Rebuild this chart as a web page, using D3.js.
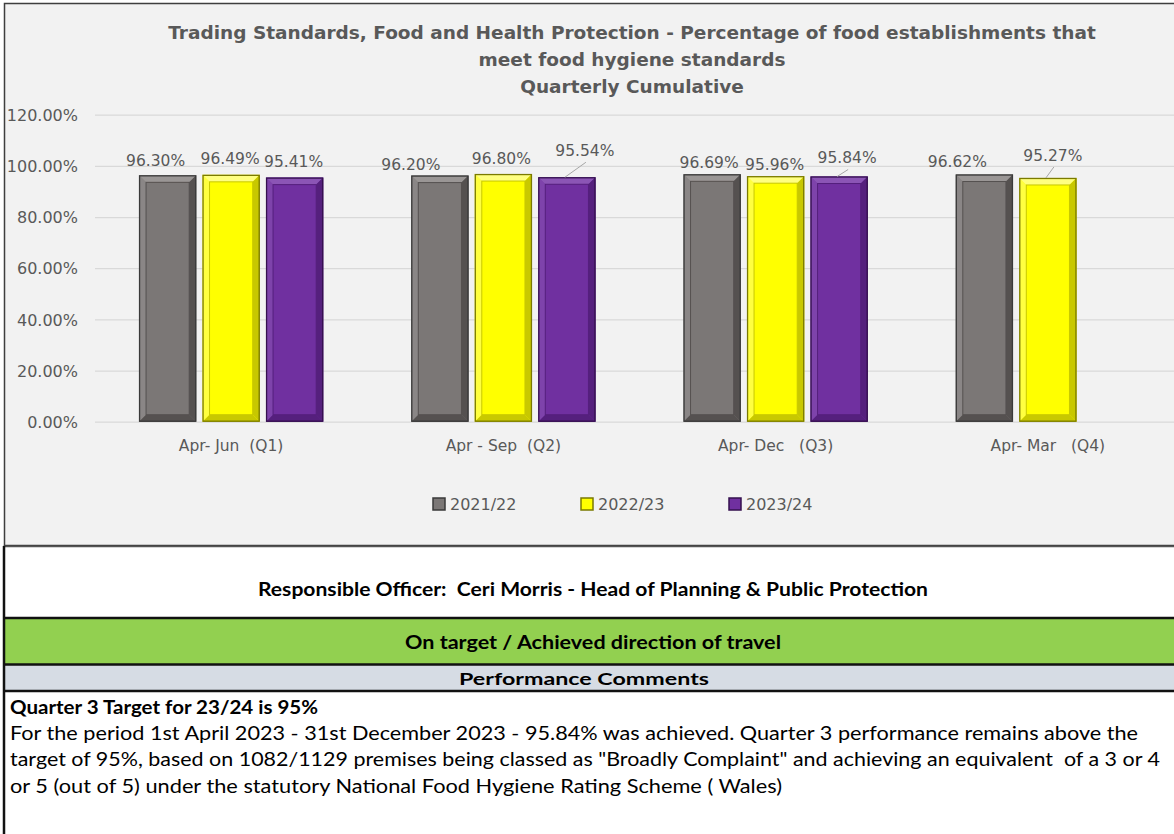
<!DOCTYPE html>
<html>
<head>
<meta charset="utf-8">
<script src="https://cdn.jsdelivr.net/npm/d3@7"></script>
<style>
  body { margin: 0; background: #fff; }
  text { white-space: pre; }
</style>
</head>
<body>
<svg id="mainsvg" width="1174" height="834"></svg>
<script>
// chart values
const quarters = ['Apr- Jun  (Q1)', 'Apr - Sep  (Q2)', 'Apr- Dec   (Q3)', 'Apr- Mar   (Q4)'];
const seriesNames = ['2021/22', '2022/23', '2023/24'];
const values2122 = [96.30, 96.20, 96.69, 96.62];
const values2223 = [96.49, 96.80, 95.96, 95.27];
const values2324 = [95.41, 95.54, 95.84, null];
const yTicks = [0, 20, 40, 60, 80, 100, 120];

const titleLines = [
  'Trading Standards, Food and Health Protection - Percentage of food establishments that',
  'meet food hygiene standards',
  'Quarterly Cumulative'
];
const officerText = 'Responsible Officer:  Ceri Morris - Head of Planning & Public Protection';
const statusText = 'On target / Achieved direction of travel';
const commentsHead = 'Performance Comments';
const commentTitle = 'Quarter 3 Target for 23/24 is 95%';
const commentLines = [
  'For the period 1st April 2023 - 31st December 2023 - 95.84% was achieved. Quarter 3 performance remains above the',
  'target of 95%, based on 1082/1129 premises being classed as "Broadly Complaint" and achieving an equivalent  of a 3 or 4',
  'or 5 (out of 5) under the statutory National Food Hygiene Rating Scheme ( Wales)'
];

// styles
const colors = {
  '2021/22': { fill: '#7b7776', edge: '#3a3a3a', light: '#9a9695', dark: '#555150' },
  '2022/23': { fill: '#ffff00', edge: '#7a7a00', light: '#ffff80', dark: '#c8c800' },
  '2023/24': { fill: '#7030a0', edge: '#35104f', light: '#8b55b5', dark: '#55207d' }
};
// manual data label nudges (dx, dy) as dragged in the original, per quarter & series
const labelNudge = [
  [[-12, 0], [-1, -1], [-1, -1]],
  [[-29, 4], [-2, -1], [18, -12]],
  [[-3, 3], [-1, 3], [8, -4]],
  [[-27, 2], [5, -8], [0, 0]]
];
// widths the spreadsheet text occupies (its font is wider than the fallback)
const commentWidths = [1128, 1150, 772];

const data = [];
quarters.forEach((q, i) => {
  [values2122, values2223, values2324].forEach((vals, j) => {
    if (vals[i] != null) data.push({ quarter: q, series: seriesNames[j], value: vals[i], qi: i, si: j });
  });
});

const svg = d3.select('#mainsvg');
const width = +svg.attr('width');
const chartFont = '"DejaVu Sans", Verdana, sans-serif';
const tableFont = 'Lato, "Open Sans", sans-serif';
const textGray = '#595959';

// chart background and frame
svg.append('rect').attr('x', 0).attr('y', 0).attr('width', width).attr('height', 834).attr('fill', '#fff');
svg.append('rect')
  .attr('x', 4.5).attr('y', 3.5).attr('width', width + 10).attr('height', 542)
  .attr('fill', '#f2f2f2').attr('stroke', '#3f3f3f').attr('stroke-width', 1.5);

const margin = { left: 95, right: 1184, top: 114.7, bottom: 421.7 };

const x0 = d3.scaleBand().domain(quarters).range([margin.left, margin.right]).padding(0);
const barStep = 63.5;
const groupW = barStep * (seriesNames.length - 0.1);
const x1 = d3.scaleBand().domain(seriesNames)
  .range([(x0.bandwidth() - groupW) / 2, (x0.bandwidth() + groupW) / 2])
  .paddingInner(0.1).paddingOuter(0);
const y = d3.scaleLinear().domain([0, 120]).range([margin.bottom, margin.top]);

// y axis gridlines + labels
const yAxis = d3.axisLeft(y).tickValues(yTicks)
  .tickSize(-(margin.right - margin.left))
  .tickFormat(d => d3.format('.2f')(d) + '%');
const gy = svg.append('g').attr('transform', `translate(${margin.left},0)`).call(yAxis);
gy.select('.domain').remove();
gy.selectAll('.tick line').attr('stroke', '#d9d9d9').attr('stroke-width', 1.2);
gy.selectAll('.tick text')
  .attr('x', -17).attr('dy', '0.36em')
  .attr('fill', textGray).attr('font-family', chartFont).attr('font-size', 16);

// x axis labels
const xAxis = d3.axisBottom(x0).tickSize(0).tickPadding(0);
const gx = svg.append('g').attr('transform', `translate(0,${margin.bottom})`).call(xAxis);
gx.select('.domain').remove();
gx.selectAll('.tick text')
  .attr('y', 29).attr('dy', 0)
  .attr('xml:space', 'preserve')
  .attr('fill', textGray).attr('font-family', chartFont).attr('font-size', 15.5);

// bars with bevel look
const bars = svg.append('g').selectAll('g.bar').data(data).join('g').attr('class', 'bar')
  .attr('transform', d => `translate(${x0(d.quarter) + x1(d.series)},0)`);

const bw = x1.bandwidth();
const inset = 7;
bars.each(function (d) {
  const g = d3.select(this);
  const c = colors[d.series];
  const top = y(d.value), bot = y(0), h = bot - top;
  g.append('rect').attr('x', 0).attr('y', top).attr('width', bw).attr('height', h).attr('fill', c.fill);
  // bevel faces
  g.append('path').attr('fill', c.light)
    .attr('d', `M0,${top}H${bw}L${bw - inset},${top + inset}H${inset}Z`);
  g.append('path').attr('fill', c.light).attr('opacity', 0.5)
    .attr('d', `M0,${top}L${inset},${top + inset}V${bot - inset}L0,${bot}Z`);
  g.append('path').attr('fill', c.dark)
    .attr('d', `M${bw},${top}V${bot}L${bw - inset},${bot - inset}V${top + inset}Z`);
  g.append('path').attr('fill', c.dark)
    .attr('d', `M0,${bot}H${bw}L${bw - inset},${bot - inset}H${inset}Z`);
  g.append('rect').attr('x', inset).attr('y', top + inset).attr('width', bw - 2 * inset).attr('height', h - 2 * inset)
    .attr('fill', 'none').attr('stroke', c.dark).attr('stroke-width', 1);
  g.append('rect').attr('x', 0.5).attr('y', top + 0.5).attr('width', bw - 1).attr('height', h - 1)
    .attr('fill', 'none').attr('stroke', c.edge).attr('stroke-width', 1.3);
});

// data labels
const labels = svg.append('g');
data.forEach(d => {
  const [dx, dy] = labelNudge[d.qi][d.si];
  const cx = x0(d.quarter) + x1(d.series) + bw / 2;
  const top = y(d.value);
  const lx = cx + dx, ly = top - 15 + dy;
  if (dy < -3) {
    labels.append('line')
      .attr('x1', lx + 1).attr('y1', ly + 12)
      .attr('x2', cx - 2).attr('y2', top)
      .attr('stroke', '#a6a6a6').attr('stroke-width', 1);
  }
  labels.append('text')
    .attr('x', lx).attr('y', ly).attr('dy', '0.36em')
    .attr('text-anchor', 'middle')
    .attr('fill', textGray).attr('font-family', chartFont).attr('font-size', 15.5)
    .text(d3.format('.2f')(d.value) + '%');
});

// title
svg.append('g').selectAll('text').data(titleLines).join('text')
  .attr('x', 632).attr('y', (d, i) => 32 + i * 27).attr('dy', '0.36em')
  .attr('text-anchor', 'middle')
  .attr('fill', textGray).attr('font-family', chartFont).attr('font-weight', 'bold').attr('font-size', 18.5)
  .text(d => d);

// legend
const legend = svg.append('g').attr('transform', 'translate(0,504)');
const legendX = d3.scalePoint().domain(seriesNames).range([433, 729]);
const lg = legend.selectAll('g').data(seriesNames).join('g')
  .attr('transform', d => `translate(${legendX(d)},0)`);
lg.append('rect').attr('x', 0).attr('y', -6).attr('width', 12).attr('height', 12)
  .attr('fill', d => colors[d].fill).attr('stroke', d => colors[d].edge).attr('stroke-width', 1.5);
lg.append('text').attr('x', 17).attr('dy', '0.36em')
  .attr('fill', textGray).attr('font-family', chartFont).attr('font-size', 16)
  .text(d => d);

// lower table
const table = svg.append('g');
table.append('rect').attr('x', 4).attr('y', 618).attr('width', width).attr('height', 46).attr('fill', '#92d050');
table.append('rect').attr('x', 4).attr('y', 665).attr('width', width).attr('height', 26).attr('fill', '#d6dce4');
[[546.5, 1.5, '#555'], [618, 2.5, '#111'], [664.5, 2.5, '#111'], [691, 2.5, '#111']].forEach(([yy, sw, col]) => {
  table.append('line').attr('x1', 3).attr('x2', width).attr('y1', yy).attr('y2', yy)
    .attr('stroke', col).attr('stroke-width', sw);
});
table.append('line').attr('x1', 4).attr('x2', 4).attr('y1', 546).attr('y2', 834)
  .attr('stroke', '#111').attr('stroke-width', 2.5);

const cellText = (txt, x, yy, size, bold, anchor, len) => table.append('text')
  .attr('x', x).attr('y', yy).attr('dy', '0.36em').attr('text-anchor', anchor)
  .attr('xml:space', 'preserve')
  .attr('font-family', tableFont).attr('font-weight', bold ? 'bold' : 'normal')
  .attr('font-size', size).attr('fill', '#000')
  .attr('textLength', len).attr('lengthAdjust', 'spacingAndGlyphs')
  .text(txt);

cellText(officerText, 593, 590, 18, true, 'middle', 670);
cellText(statusText, 593, 643, 18, true, 'middle', 376);
cellText(commentsHead, 584, 679, 17.5, true, 'middle', 250);
cellText(commentTitle, 10, 707, 18.5, true, 'start', 308);
commentLines.forEach((t, i) => cellText(t, 10, 733 + i * 26.5, 18.5, false, 'start', commentWidths[i]));
</script>
</body>
</html>
